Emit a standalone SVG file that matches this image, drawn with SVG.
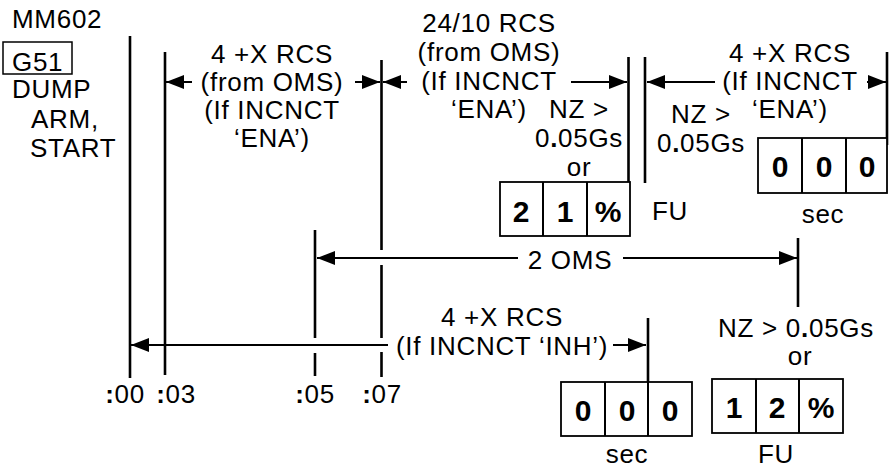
<svg xmlns="http://www.w3.org/2000/svg" width="889" height="468" viewBox="0 0 889 468">
<style>
text{font-family:"Liberation Sans",Arial,sans-serif;font-size:26px;letter-spacing:0.7px;fill:#000}
.m{text-anchor:middle}
.d{font-weight:bold;font-size:30px;text-anchor:middle;letter-spacing:0}
.b{font-weight:bold}
.v{stroke:#000;stroke-width:2.6;fill:none}
.h{stroke:#000;stroke-width:2;fill:none}
.a{stroke:#000;stroke-width:2;fill:none;marker-end:url(#ah)}
.box{fill:#fff;stroke:#000;stroke-width:1.8}
</style>
<defs>
<marker id="ah" viewBox="0 0 18 14" refX="18" refY="7" markerWidth="18" markerHeight="14" markerUnits="userSpaceOnUse" orient="auto"><path d="M0,0 L18,7 L0,14 z" fill="#000"/></marker>
</defs>
<rect width="889" height="468" fill="#fff"/>

<g id="connectors">
<path class="v" d="M130,36V378M165,52V375M315,230V338M315,353V376M381.5,60V250M381.5,265V338M381.5,352V377M628.5,57V182M645,57V183M887,52V145M798,238V307M648,318V382"/>
<path class="a" d="M192,82H166"/>
<path class="a" d="M355,82H380"/>
<path class="a" d="M407,82H383"/>
<path class="a" d="M571,82H627"/>
<path class="a" d="M715,82H647"/>
<path class="a" d="M867,82H886"/>
<path class="a" d="M518,258H317"/>
<path class="a" d="M623,258H797"/>
<path class="a" d="M388,345H131"/>
<path class="a" d="M613,345H646"/>
</g>

<g id="header">
<text x="12" y="28">MM602</text>
<rect x="3" y="42" width="69" height="32" fill="none" stroke="#000" stroke-width="1.5"/>
<text x="12" y="71">G51</text>
<text x="12" y="98">DUMP</text>
<text x="31" y="128">ARM,</text>
<text x="30" y="157">START</text>
</g>

<g id="blockA">
<text class="m" x="272" y="63">4 +X RCS</text>
<text class="m" x="272" y="91">(from OMS)</text>
<text class="m" x="272" y="119">(If INCNCT</text>
<text class="m" x="272" y="147">‘ENA’)</text>
</g>

<g id="blockB">
<text class="m" x="489" y="32">24/10 RCS</text>
<text class="m" x="489" y="61">(from OMS)</text>
<text class="m" x="489" y="90">(If INCNCT</text>
<text class="m" x="489" y="118">‘ENA’)</text>
<text class="m" x="579" y="118">NZ &gt;</text>
<text class="m" x="579" y="147">0<tspan class="b">.</tspan>05Gs</text>
<text class="m" x="579" y="176">or</text>
</g>

<g id="box21">
<rect class="box" x="500" y="182" width="130" height="54"/>
<path class="h" d="M543,182V236M587,182V236" stroke-width="1.8"/>
<text class="d" x="521" y="222">2</text>
<text class="d" x="565" y="222">1</text>
<text class="d" x="608" y="222">%</text>
<text x="652" y="220">FU</text>
</g>

<g id="blockC">
<text class="m" x="790" y="62">4 +X RCS</text>
<text class="m" x="790" y="90">(If INCNCT</text>
<text class="m" x="790" y="118">‘ENA’)</text>
<text class="m" x="701" y="123">NZ &gt;</text>
<text class="m" x="701" y="152">0<tspan class="b">.</tspan>05Gs</text>
</g>

<g id="box000top">
<rect class="box" x="758" y="138" width="129" height="55"/>
<path class="h" d="M802,138V193M846,138V193" stroke-width="1.8"/>
<text class="d" x="780" y="177">0</text>
<text class="d" x="824" y="177">0</text>
<text class="d" x="867" y="177">0</text>
<text class="m" x="823" y="223">sec</text>
</g>

<g id="oms">
<text class="m" x="570" y="269">2 OMS</text>
</g>

<g id="blockD">
<text class="m" x="502" y="326">4 +X RCS</text>
<text class="m" x="502" y="355">(If INCNCT ‘INH’)</text>
</g>

<g id="box000bottom">
<rect class="box" x="561" y="382" width="131" height="54"/>
<path class="h" d="M605,382V436M648,382V436" stroke-width="1.8"/>
<text class="d" x="583" y="421">0</text>
<text class="d" x="627" y="421">0</text>
<text class="d" x="670" y="421">0</text>
<text class="m" x="627" y="463">sec</text>
</g>

<g id="box12">
<text class="m" x="796" y="337">NZ &gt; 0<tspan class="b">.</tspan>05Gs</text>
<text class="m" x="800" y="365">or</text>
<rect class="box" x="712" y="379" width="131" height="54"/>
<path class="h" d="M756,379V433M799,379V433" stroke-width="1.8"/>
<text class="d" x="734" y="418">1</text>
<text class="d" x="777" y="418">2</text>
<text class="d" x="821" y="418">%</text>
<text class="m" x="776" y="463">FU</text>
</g>

<g id="times">
<text class="m" x="125" y="403"><tspan class="b">:</tspan>00</text>
<text class="m" x="176" y="403"><tspan class="b">:</tspan>03</text>
<text class="m" x="315" y="403"><tspan class="b">:</tspan>05</text>
<text class="m" x="382" y="403"><tspan class="b">:</tspan>07</text>
</g>
</svg>
